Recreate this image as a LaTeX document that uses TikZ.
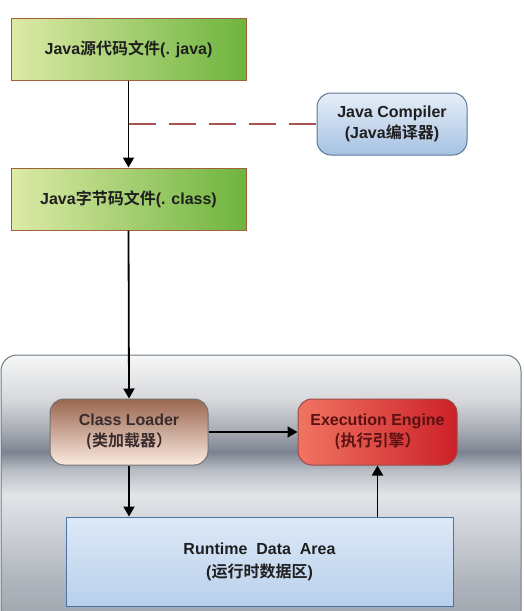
\documentclass[tikz,border=0pt]{standalone}
\usepackage{fontspec}
\setmainfont{Liberation Sans}
\newfontfamily\cjk{Noto Sans CJK SC}[BoldFont={Noto Sans CJK SC Bold}]
\usetikzlibrary{arrows.meta}
\definecolor{mA}{HTML}{F6F6F6}
\definecolor{mB}{HTML}{D6D8DC}
\definecolor{mC}{HTML}{A8ACB4}
\definecolor{mD}{HTML}{7C8290}
\definecolor{mE}{HTML}{B8BCC4}
\definecolor{mF}{HTML}{E2E4E8}
\definecolor{mG}{HTML}{C8CCD2}
\definecolor{mH}{HTML}{B0B4BC}
\definecolor{mI}{HTML}{A0A4AC}
% TikZ maps the path's box onto the middle half (25bp..75bp) of a 100bp shading
\pgfdeclareverticalshading{metal}{100bp}{color(0bp)=(mI); color(25bp)=(mI); color(33.3bp)=(mH); color(40.7bp)=(mG); color(49.1bp)=(mF); color(53.7bp)=(mE); color(57bp)=(mD); color(61.1bp)=(mC); color(66.7bp)=(mB); color(75bp)=(mA); color(100bp)=(mA)}
\definecolor{gL}{HTML}{DDEAA6}
\definecolor{gM}{HTML}{6CD46E}
\definecolor{gR}{HTML}{6EB43E}
\definecolor{gB}{HTML}{A0603C}
\definecolor{cT}{HTML}{E6EEF8}
\definecolor{cBt}{HTML}{A6C2E2}
\definecolor{cBd}{HTML}{5A7898}
\definecolor{lT}{HTML}{9A6650}
\definecolor{lM}{HTML}{F0D2C2}
\definecolor{lB}{HTML}{FBEAE0}
\definecolor{eL}{HTML}{F07462}
\definecolor{eM}{HTML}{E81C24}
\definecolor{eR}{HTML}{CC2028}
\definecolor{rT}{HTML}{DDE9F7}
\definecolor{rB}{HTML}{B9D0EC}
\definecolor{rBd}{HTML}{4A74A8}
\definecolor{dashc}{HTML}{A85252}
\definecolor{ctr}{HTML}{6A7C84}
\definecolor{clText}{HTML}{3A2C2C}
\definecolor{eeText}{HTML}{5A1212}
\tikzset{
  txt/.style={font=\bfseries\fontsize{16}{21}\selectfont, align=center, text=black!88},
  filebox/.style={txt, draw=gB, line width=1pt, minimum width=235pt, minimum height=62pt,
    left color=gL, middle color=gM, right color=gR, shading angle=90},
  compbox/.style={txt, draw=cBd, line width=1pt, rounded corners=14pt, minimum width=150pt, minimum height=62pt,
    top color=cT, bottom color=cBt},
  loadbox/.style={txt, draw=black!55, line width=1pt, rounded corners=14pt, minimum width=158pt, minimum height=66pt,
    top color=lT, middle color=lM, bottom color=lB, text=clText},
  enginebox/.style={txt, draw=red!45!black!70, line width=1pt, rounded corners=14pt, minimum width=159pt, minimum height=66pt,
    left color=eL, middle color=eM, right color=eR, text=eeText},
  areabox/.style={txt, draw=rBd, line width=1pt, minimum width=387pt, minimum height=89pt,
    top color=rT, bottom color=rB, font=\bfseries\fontsize{16}{23}\selectfont},
  arr/.style={line width=1.8pt, -{Triangle[width=11pt,length=10pt]}},
}
\begin{document}
\begin{tikzpicture}[x=1pt,y=-1pt]
\useasboundingbox (0,0) rectangle (523,611);
\fill[white] (0,0) rectangle (523,611);
% container
\draw[ctr, line width=1pt, shading=metal, rounded corners=16pt] (1,625) -- (1,355) -- (521,355) -- (521,625);
% nodes
\node[filebox] (src) at (128.5,49) {Java{\cjk\bfseries 源代码文件}(. java)};
\node[compbox] (comp) at (392,124) {Java Compiler\\(Java{\cjk\bfseries 编译器})};
\node[filebox] (cls) at (128.5,199) {Java{\cjk\bfseries 字节码文件}(. class)};
\node[loadbox] (cl) at (129,432) {Class Loader\\{\cjk\bfseries (类加载器）}};
\node[enginebox] (ee) at (377.5,432) {Execution Engine\\{\cjk\bfseries (执行引擎）}};
\node[areabox] (rda) at (259.5,561.5) {Runtime~~Data~~Area\\({\cjk\bfseries 运行时数据区})};
% connectors
\draw[dashc, line width=2pt, dash pattern=on 27pt off 13pt] (src.south |- comp.west) -- (comp.west);
\draw[arr] (src.south) -- (cls.north);
\draw[arr] (cls.south) -- (cl.north);
\draw[arr] (cl.east) -- (ee.west);
\draw[arr] (cl.south) -- (cl.south |- rda.north);
\draw[arr] (rda.north -| ee.south) -- (ee.south);
\end{tikzpicture}
\end{document}
